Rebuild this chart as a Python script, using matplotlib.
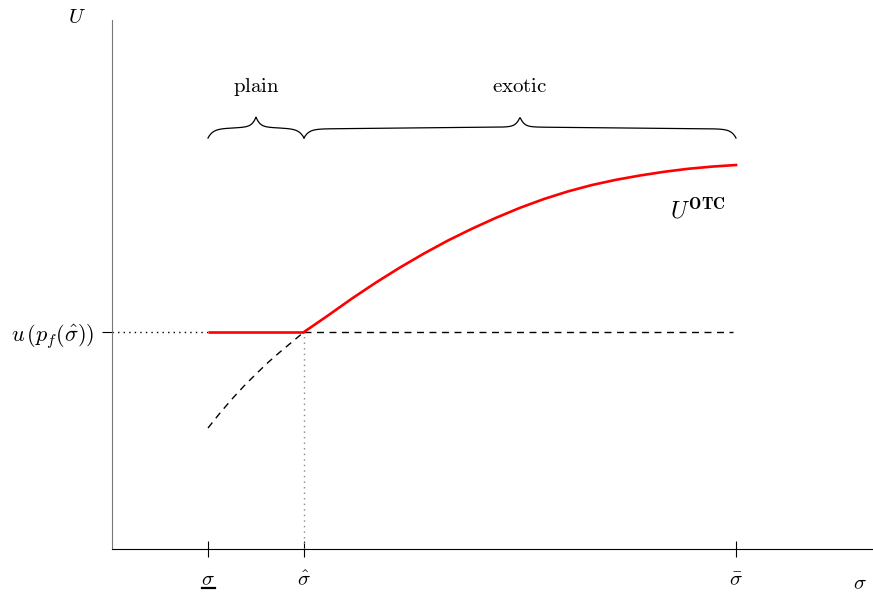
import numpy as np
import matplotlib
matplotlib.use('Agg')
import matplotlib.pyplot as plt
import matplotlib.transforms as mtransforms

plt.rcParams['mathtext.fontset'] = 'cm'
plt.rcParams['font.family'] = 'serif'
plt.rcParams['font.serif'] = ['cmr10', 'DejaVu Serif']
plt.rcParams['axes.formatter.use_mathtext'] = True

# positions on the sigma axis
sig_low = 1.0
sig_hat = 2.0
sig_bar = 6.5
u_level = 2.17

# U^OTC curve (red) from sigma_hat to sigma_bar
otc_x = [2.0, 2.25, 2.5, 2.75, 3.0, 3.25, 3.5, 3.75, 4.0, 4.25, 4.5, 4.75,
         5.0, 5.25, 5.5, 5.75, 6.0, 6.25, 6.5]
otc_y = [2.17, 2.335, 2.505, 2.665, 2.815, 2.955, 3.085, 3.203, 3.312, 3.412, 3.50, 3.576,
         3.64, 3.692, 3.735, 3.772, 3.802, 3.824, 3.84]

# dashed extension below sigma_hat
ext_x = [1.0, 1.125, 1.25, 1.375, 1.5, 1.625, 1.75, 1.875, 2.0]
ext_y = [1.21, 1.36, 1.50, 1.63, 1.75, 1.865, 1.97, 2.07, 2.17]

fig = plt.figure(figsize=(8.73, 5.92), dpi=100)
ax = fig.add_axes([112/873, 43/592, 761/873, 529/592])
ax.set_xlim(0, 761/96)
ax.set_ylim(0, 5.29)

ax.spines['top'].set_visible(False)
ax.spines['right'].set_visible(False)
ax.spines['left'].set_color('#777777')
ax.spines['bottom'].set_color('black')

# curves
ax.plot(ext_x, ext_y, color='black', lw=1, ls=(0, (5, 4)))
ax.plot([sig_hat, 6.47], [u_level, u_level], color='black', lw=1, ls=(0, (5, 4)))
ax.plot([0, sig_low], [u_level, u_level], color='black', lw=1, ls=(0, (1, 3)))
ax.plot([sig_hat, sig_hat], [0, u_level], color='#888888', lw=1, ls=(0, (1, 3)))
ax.plot([sig_low, sig_hat], [u_level, u_level], color='red', lw=1.9, solid_capstyle='butt')
ax.plot(otc_x, otc_y, color='red', lw=1.9)

# ticks
ax.set_xticks([sig_low, sig_hat, sig_bar])
ax.set_xticklabels([r'$\sigma$', r'$\hat{\sigma}$', r'$\bar{\sigma}$'], fontsize=15)
ax.set_yticks([u_level])
ax.set_yticklabels([r'$u\,(p_f(\hat{\sigma}))$'], fontsize=16)
ax.tick_params(axis='x', direction='inout', length=12, width=0.8, pad=10)
ax.tick_params(axis='y', direction='out', length=7, width=0.8, pad=6)

# underline for the lower sigma label
trans = mtransforms.blended_transform_factory(ax.transData, fig.transFigure)
ax.plot([sig_low - 0.065, sig_low + 0.075], [1 - 588/592] * 2, color='black', lw=1.6,
        transform=trans, clip_on=False)


def brace(ax, x0, x1, yb):
    # curly brace, ends curl down, tip points up
    xs = np.linspace(x0, x1, 600)
    half = (x1 - x0) / 2
    d = np.minimum(xs - x0, x1 - xs)
    ys = (yb + 0.09 * (1 - np.exp(-d / 0.05)) + 0.02 * d / half
          + 0.10 * np.exp(-(half - d) / 0.04))
    ax.plot(xs, ys, color='black', lw=0.9)


brace(ax, sig_low, sig_hat, 4.11)
brace(ax, sig_hat, sig_bar, 4.11)

ax.text((sig_low + sig_hat) / 2, 4.62, r'$\mathrm{plain}$', fontsize=15, ha='center', va='center')
ax.text((sig_hat + sig_bar) / 2, 4.62, r'$\mathrm{exotic}$', fontsize=15, ha='center', va='center')
ax.text(6.10, 3.38, r'$U^{\mathbf{OTC}}$', fontsize=17, ha='center', va='center')

fig.text(77/873, 1 - 18/592, r'$U$', fontsize=15, ha='center', va='center')
fig.text(860/873, 1 - 584/592, r'$\sigma$', fontsize=15, ha='center', va='center')

fig.savefig('out.png', dpi=100)
